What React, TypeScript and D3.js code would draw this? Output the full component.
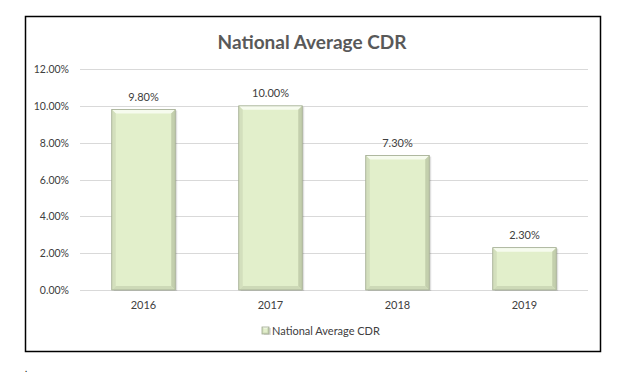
import React from "react";
import * as d3 from "d3";

const categories = ["2016", "2017", "2018", "2019"];
const values = [0.098, 0.1, 0.073, 0.023];
const labels = ["9.80%", "10.00%", "7.30%", "2.30%"];
const yTicks = [0, 0.02, 0.04, 0.06, 0.08, 0.1, 0.12];
const seriesName = "National Average CDR";
const title = "National Average CDR";

const FONT = "Lato, 'Open Sans', sans-serif";

export default function App() {
  const W = 630, H = 383;
  const x = d3.scaleBand().domain(categories).range([80, 588]).paddingInner(0.5).paddingOuter(0.25);
  const y = d3.scaleLinear().domain([0, 0.12]).range([290, 69]);
  const fmt = d3.format(".2%");
  const b = 4;

  const bevel = (x0: number, y0: number, w: number, h: number, bb: number, key: string) => {
    const x1 = x0 + w, y1 = y0 + h;
    return (
      <g key={key}>
        <rect x={x0 + 2} y={y0 + 1} width={w} height={h} fill="#000" opacity={0.12} />
        <rect x={x0} y={y0} width={w} height={h} fill="#e2efcb" />
        <polygon points={`${x0},${y0} ${x1},${y0} ${x1 - bb},${y0 + bb} ${x0 + bb},${y0 + bb}`} fill="#f6fbee" />
        <polygon points={`${x0},${y1} ${x1},${y1} ${x1 - bb},${y1 - bb} ${x0 + bb},${y1 - bb}`} fill="#cdd9b7" />
        <polygon points={`${x0},${y0} ${x0 + bb},${y0 + bb} ${x0 + bb},${y1 - bb} ${x0},${y1}`} fill="#d3dfbd" />
        <polygon points={`${x1},${y0} ${x1 - bb},${y0 + bb} ${x1 - bb},${y1 - bb} ${x1},${y1}`} fill="#c3cfad" />
        <rect x={x0} y={y0} width={w} height={h} fill="none" stroke="#9ea88e" strokeWidth={0.8} />
      </g>
    );
  };

  return (
    <svg width={W} height={H} style={{ position: "absolute", left: 0, top: 0 }} fontFamily={FONT}>
      <rect x={0} y={0} width={W} height={H} fill="#fff" />
      <rect x={25.5} y={16.5} width={575} height={335} fill="#fff" stroke="#000" strokeWidth={1.5} />
      <text x={312} y={49} textAnchor="middle" fontSize={19} fontWeight="bold" fill="#595959">{title}</text>
      {yTicks.map((t) => (
        <g key={t}>
          <line x1={80} x2={588} y1={Math.round(y(t)) + 0.5} y2={Math.round(y(t)) + 0.5} stroke="#d9d9d9" strokeWidth={1} />
          <text x={69} y={y(t) + 4} textAnchor="end" fontSize={10.5} fill="#404040">{fmt(t)}</text>
        </g>
      ))}
      {categories.map((c, i) => {
        const x0 = x(c)!;
        const w = x.bandwidth();
        const y0 = y(values[i]);
        const h = y(0) - y0;
        return (
          <g key={c}>
            {bevel(x0, y0, w, h, b, c)}
            <text x={x0 + w / 2} y={y0 - 9} textAnchor="middle" fontSize={11} fill="#404040">{labels[i]}</text>
            <text x={x0 + w / 2} y={309} textAnchor="middle" fontSize={11} fill="#404040">{c}</text>
          </g>
        );
      })}
      {bevel(262, 327, 7, 7, 1.5, "leg")}
      <text x={272} y={335} fontSize={11} fill="#404040">{seriesName}</text>
      <text x={25} y={372} fontSize={9} fill="#000">.</text>
    </svg>
  );
}
